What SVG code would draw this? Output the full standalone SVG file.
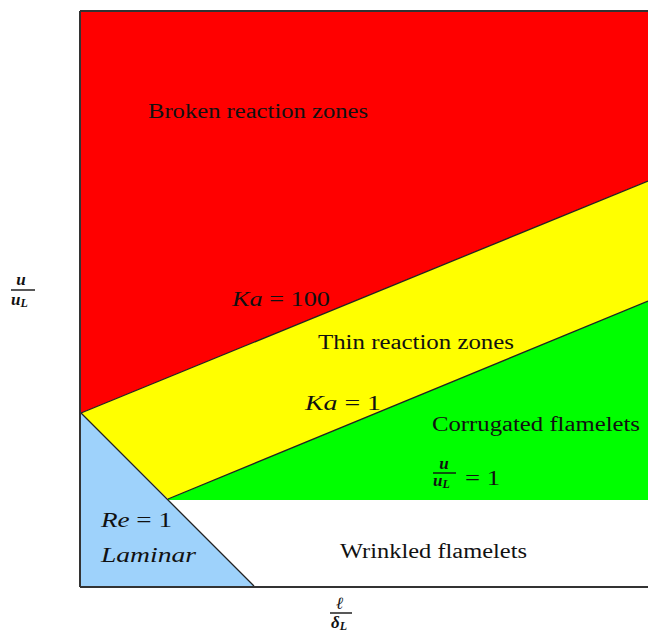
<svg xmlns="http://www.w3.org/2000/svg" width="648" height="632" viewBox="0 0 648 632">
<style>
text{font-family:"Liberation Serif","DejaVu Serif",serif;fill:#111;}
.lbl{font-size:20px;}
.m{font-style:italic;}
.ln{stroke:#222;stroke-width:1.3;fill:none;}
.ax{stroke:#333;stroke-width:2;fill:none;}
.fr{font-size:17px;font-weight:bold;}
</style>
<rect width="648" height="632" fill="#fff"/>
<g id="broken">
<polygon points="81,12 648,12 648,181 81,413" fill="#ff0000"/>
<text class="lbl" x="148" y="118" textLength="220" lengthAdjust="spacingAndGlyphs">Broken reaction zones</text>
</g>
<g id="thin">
<polygon points="81,413 648,181 648,301 168,499" fill="#ffff00"/>
<text class="lbl" x="318" y="349" textLength="196" lengthAdjust="spacingAndGlyphs">Thin reaction zones</text>
</g>
<g id="corrugated">
<polygon points="168,499 648,301 648,500 168,500" fill="#00ff00"/>
<text class="lbl" x="432" y="431" textLength="208" lengthAdjust="spacingAndGlyphs">Corrugated flamelets</text>
<text class="fr m" x="444" y="469" text-anchor="middle">u</text>
<line x1="433" y1="473" x2="456" y2="473" stroke="#111" stroke-width="1.4"/>
<text class="fr m" x="433" y="486">u<tspan font-size="12" dy="2">L</tspan></text>
<text class="lbl" x="465" y="485" textLength="35" lengthAdjust="spacingAndGlyphs">= 1</text>
</g>
<g id="laminar">
<polygon points="81,413 254,586 81,586" fill="#9ed2fb"/>
<text class="lbl" x="101" y="527" textLength="71" lengthAdjust="spacingAndGlyphs"><tspan class="m">Re</tspan> = 1</text>
<text class="lbl m" x="101" y="562" textLength="95" lengthAdjust="spacingAndGlyphs">Laminar</text>
</g>
<g id="wrinkled">
<polygon points="168,500 648,500 648,586 254,586" fill="#ffffff"/>
<text class="lbl" x="340" y="558" textLength="187" lengthAdjust="spacingAndGlyphs">Wrinkled flamelets</text>
</g>
<g id="connectors">
<line class="ln" x1="81" y1="413" x2="648" y2="181"/>
<line class="ln" x1="168" y1="499" x2="648" y2="301"/>
<line class="ln" x1="81" y1="413" x2="254" y2="586"/>
<line class="ax" x1="80" y1="11" x2="80" y2="587"/>
<line class="ax" x1="80" y1="11" x2="648" y2="11"/>
<line class="ax" x1="80" y1="587" x2="648" y2="587"/>
</g>
<g id="labels">
<text class="lbl m" x="232" y="306" textLength="98" lengthAdjust="spacingAndGlyphs">Ka <tspan font-style="normal">= 100</tspan></text>
<text class="lbl m" x="305" y="410" textLength="76" lengthAdjust="spacingAndGlyphs">Ka <tspan font-style="normal">= 1</tspan></text>
</g>
<g id="yaxis">
<text class="fr m" x="21" y="285" text-anchor="middle">u</text>
<line x1="11" y1="290" x2="35" y2="290" stroke="#111" stroke-width="1.4"/>
<text class="fr m" x="11" y="305">u<tspan font-size="12" dy="2">L</tspan></text>
</g>
<g id="xaxis">
<text class="fr m" x="340" y="609" text-anchor="middle">ℓ</text>
<line x1="330" y1="613" x2="352" y2="613" stroke="#111" stroke-width="1.4"/>
<text class="fr m" x="331" y="628">δ<tspan font-size="12" dy="2">L</tspan></text>
</g>
</svg>
